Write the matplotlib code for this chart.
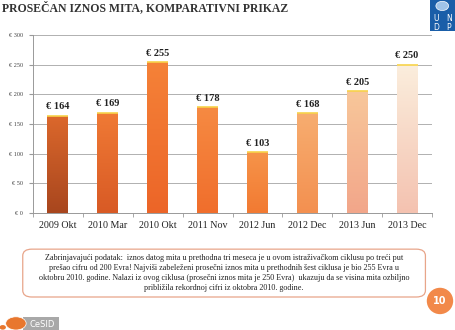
import matplotlib
matplotlib.use("Agg")
import matplotlib.pyplot as plt
import numpy as np
from matplotlib.colors import LinearSegmentedColormap
from matplotlib.patches import FancyBboxPatch, Rectangle, Circle, Ellipse

categories = ["2009 Okt", "2010 Mar", "2010 Okt", "2011 Nov", "2012 Jun", "2012 Dec", "2013 Jun", "2013 Dec"]
values = [164, 169, 255, 178, 103, 168, 205, 250]
value_labels = ["€ 164", "€ 169", "€ 255", "€ 178", "€ 103", "€ 168", "€ 205", "€ 250"]
y_ticks = [0, 50, 100, 150, 200, 250, 300]
y_tick_labels = ["€ 0", "€ 50", "€ 100", "€ 150", "€ 200", "€ 250", "€ 300"]

title = "PROSEČAN IZNOS MITA, KOMPARATIVNI PRIKAZ"
note = ("Zabrinjavajući podatak:  iznos datog mita u prethodna tri meseca je u ovom istraživačkom ciklusu po treći put\n"
        "prešao cifru od 200 Evra! Najviši zabeleženi prosečni iznos mita u prethodnih šest ciklusa je bio 255 Evra u\n"
        "oktobru 2010. godine. Nalazi iz ovog ciklusa (prosečni iznos mita je 250 Evra)  ukazuju da se visina mita ozbiljno\n"
        "približila rekordnoj cifri iz oktobra 2010. godine.")
page_number = "10"

bottom_colors = ["#a8461e", "#d85a25", "#ec6528", "#f06e2c", "#f27a32", "#f39050", "#f2a68a", "#f4c2b0"]
top_colors = ["#dc682c", "#f07a35", "#f58238", "#f68a42", "#f6944a", "#f7ad70", "#f8c79a", "#fbeedd"]

serif = ["Liberation Serif", "DejaVu Serif"]
plt.rcParams["font.family"] = serif

fig = plt.figure(figsize=(4.55, 3.30), dpi=100)
fig.patch.set_facecolor("white")
ax = fig.add_axes([0.0725, 0.355, 0.877, 0.539])

x = np.arange(len(categories))
bars = ax.bar(x, values, width=0.42, color="none", edgecolor="none", zorder=3)
grad = np.linspace(0, 1, 256).reshape(-1, 1)
for i, b in enumerate(bars):
    cmap = LinearSegmentedColormap.from_list("g%d" % i, [bottom_colors[i], top_colors[i]])
    bx, by = b.get_x(), b.get_y()
    im = ax.imshow(grad, cmap=cmap, origin="lower", aspect="auto",
                   extent=[bx, bx + b.get_width(), by, by + b.get_height()], zorder=3)
    im.set_clip_path(b)
    ax.plot([bx, bx + b.get_width()], [values[i], values[i]], color="#f7d34a", lw=1.2, zorder=4,
            solid_capstyle="butt")
    ax.text(x[i], values[i] + 7, value_labels[i], ha="center", va="bottom",
            fontsize=7.5, fontweight="bold", color="#222222", zorder=5)

ax.set_xlim(-0.5, len(categories) - 0.5)
ax.set_ylim(0, 300)
ax.set_yticks(y_ticks)
ax.set_yticklabels(y_tick_labels, fontsize=4.5, color="#444444")
ax.set_xticks(x)
ax.set_xticklabels(categories, fontsize=7.2, color="#222222")
ax.set_xticks(np.arange(len(categories) + 1) - 0.5, minor=True)
ax.tick_params(axis="x", which="major", length=0, pad=6)
ax.tick_params(axis="x", which="minor", length=3, color="#999999")
ax.tick_params(axis="y", length=3, color="#999999", pad=4)
ax.grid(axis="y", color="#b0b0b0", lw=0.7, zorder=0)
for s in ["top", "right"]:
    ax.spines[s].set_visible(False)
for s in ["left", "bottom"]:
    ax.spines[s].set_color("#999999")
    ax.spines[s].set_linewidth(0.7)

# Title
fig.text(0.005, 0.995, title, fontsize=8.5, fontweight="bold", color="#333333", ha="left", va="top")

# UNDP logo
fig.patches.append(Rectangle((0.945, 0.905), 0.055, 0.095, transform=fig.transFigure,
                             facecolor="#1a5ea8", edgecolor="none"))
fig.patches.append(Circle((0.972, 0.982), 0.014, transform=fig.transFigure, facecolor="#9fc3e8", edgecolor="white", lw=0.5))
for lx, ly, t in [(0.958, 0.945, "U"), (0.986, 0.945, "N"), (0.958, 0.918, "D"), (0.986, 0.918, "P")]:
    fig.text(lx, ly, t, fontsize=5.5, color="white", ha="center", va="center", family="DejaVu Sans")

# note box
fig.patches.append(FancyBboxPatch((0.05, 0.1), 0.885, 0.145, boxstyle="round,pad=0,rounding_size=0.02",
                                  transform=fig.transFigure, facecolor="white", edgecolor="#e8a58a", lw=0.9))
fig.text(0.492, 0.173, note, fontsize=5.9, color="#222222", ha="center", va="center", linespacing=1.3)

# page number
fig.patches.append(Ellipse((0.967, 0.088), 0.058, 0.08, transform=fig.transFigure,
                           facecolor="#f2894a", edgecolor="none"))
fig.text(0.967, 0.088, page_number, fontsize=7, color="white", ha="center", va="center",
         fontweight="bold", family="DejaVu Sans")

# CeSID logo
fig.patches.append(Rectangle((0.05, 0.0), 0.08, 0.04, transform=fig.transFigure,
                             facecolor="#a8a8a8", edgecolor="none"))
fig.patches.append(Ellipse((0.035, 0.02), 0.045, 0.04, transform=fig.transFigure,
                           facecolor="#e8772e", edgecolor="white", lw=0.5))
fig.text(0.093, 0.018, "CeSID", fontsize=6, color="white", ha="center", va="center", family="DejaVu Sans")
fig.patches.append(Circle((0.006, 0.008), 0.007, transform=fig.transFigure, facecolor="#e8772e", edgecolor="none"))

fig.savefig("out.png", dpi=100, facecolor="white")
